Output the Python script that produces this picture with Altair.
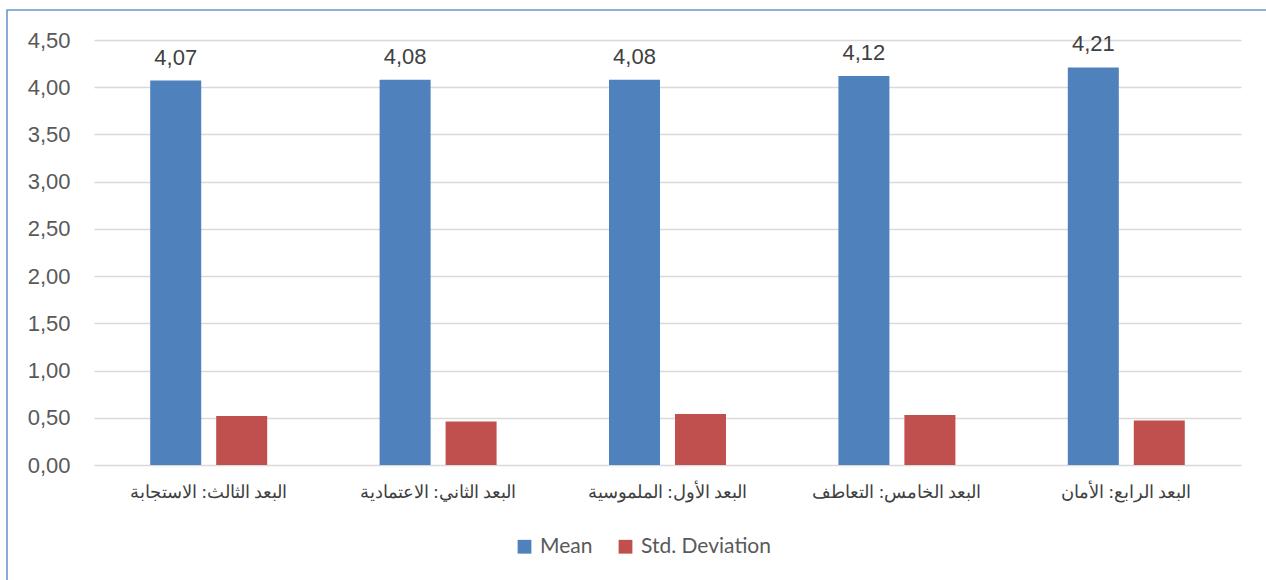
import altair as alt
import pandas as pd

# Dimensions, left to right as they appear on the axis
categories = [
    "البعد الثالث: الاستجابة",
    "البعد الثاني: الاعتمادية",
    "البعد الأول: الملموسية",
    "البعد الخامس: التعاطف",
    "البعد الرابع: الأمان",
]
mean_values = [4.07, 4.08, 4.08, 4.12, 4.21]
std_values = [0.52, 0.46, 0.54, 0.53, 0.47]
series_names = ["Mean", "Std. Deviation"]
series_colors = ["#4F81BD", "#C0504D"]
y_ticks = [0, 0.5, 1, 1.5, 2, 2.5, 3, 3.5, 4, 4.5]

rows = []
for cat, m, s in zip(categories, mean_values, std_values):
    rows.append({"dimension": cat, "series": series_names[0], "value": m})
    rows.append({"dimension": cat, "series": series_names[1], "value": s})
df = pd.DataFrame(rows)

comma_fmt = "replace(format(datum.value, '.2f'), '.', ',')"

x_enc = alt.X(
    "dimension:N",
    sort=categories,
    title=None,
    scale=alt.Scale(paddingInner=0.49, paddingOuter=0.245),
    axis=alt.Axis(
        labelAngle=0,
        labelFont="Times New Roman",
        labelFontSize=18,
        labelColor="#404040",
        labelPadding=18,
        ticks=False,
        domain=False,
        grid=False,
    ),
)
y_enc = alt.Y(
    "value:Q",
    title=None,
    scale=alt.Scale(domain=[0, 4.5], nice=False),
    axis=alt.Axis(
        values=y_ticks,
        labelExpr=comma_fmt,
        labelFont="Liberation Sans",
        labelFontSize=22,
        labelColor="#595959",
        labelPadding=24,
        ticks=False,
        domain=False,
        gridColor="#D9D9D9",
        gridWidth=1.3,
    ),
)
offset_enc = alt.XOffset(
    "series:N",
    sort=series_names,
    scale=alt.Scale(paddingInner=0.227, paddingOuter=0),
)

bars = alt.Chart(df).mark_bar().encode(
    x=x_enc,
    y=y_enc,
    xOffset=offset_enc,
    color=alt.Color(
        "series:N",
        sort=series_names,
        scale=alt.Scale(domain=series_names, range=series_colors),
        legend=alt.Legend(
            title=None,
            orient="none",
            direction="horizontal",
            legendX=420,
            legendY=496,
            symbolType="square",
            symbolSize=190,
            symbolStrokeWidth=0,
            labelFont="Lato",
            labelFontSize=21,
            labelColor="#595959",
            columnPadding=22,
            labelOffset=5,
        ),
    ),
)

labels = (
    alt.Chart(df)
    .transform_filter(alt.datum.series == "Mean")
    .transform_calculate(label=comma_fmt)
    .mark_text(
        baseline="alphabetic",
        dy=-16,
        font="Liberation Sans",
        fontSize=22,
        color="#404040",
    )
    .encode(x=x_enc, y=y_enc, xOffset=offset_enc, text="label:N")
)

# Outer frame of the chart area
frame = (
    alt.Chart(alt.Data(values=[{}]))
    .mark_rect(fill=None, stroke="#6A96CF", strokeWidth=1.6)
    .encode(
        x=alt.value(-87),
        x2=alt.value(1200),
        y=alt.value(-30),
        y2=alt.value(600),
    )
)

chart = (
    alt.layer(frame, bars, labels)
    .properties(
        width=1147,
        height=425,
        autosize=alt.AutoSizeParams(type="none"),
        padding={"left": 94, "top": 40, "right": 25, "bottom": 115},
        background="white",
    )
    .configure_view(stroke=None)
)

chart.save("out.html", embed_options={"renderer": "svg", "actions": False})
